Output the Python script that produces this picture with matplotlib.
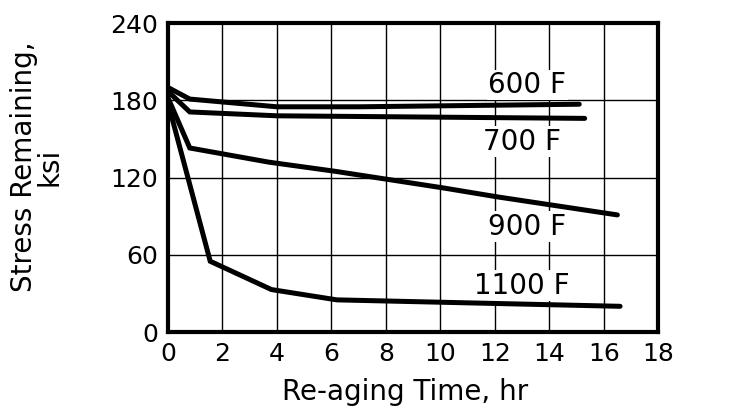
import matplotlib
matplotlib.use("Agg")
import matplotlib.pyplot as plt

# Data
t_600 = [0, 0.8, 4.0, 7.0, 15.1]
s_600 = [190, 181, 175, 175, 177]

t_700 = [0, 0.8, 4.0, 15.3]
s_700 = [187, 171, 168, 166]

t_900 = [0, 0.8, 3.7, 6.1, 10.1, 12.1, 16.5]
s_900 = [182, 143, 132, 125, 112, 105, 91]

t_1100 = [0, 1.55, 3.8, 6.2, 16.6]
s_1100 = [178, 55, 33, 25, 20]

labels = ["600 F", "700 F", "900 F", "1100 F"]
label_pos = [(13.2, 192), (13.0, 148), (13.2, 82), (13.0, 36)]

x_ticks = [0, 2, 4, 6, 8, 10, 12, 14, 16, 18]
x_ticklabels = ["0", "2", "4", "6", "8", "10", "12", "14", "16", "18"]
y_ticks = [0, 60, 120, 180, 240]

fig = plt.figure(figsize=(7.45, 4.13), dpi=100)
ax = fig.add_axes([0.2255, 0.196, 0.658, 0.748])

ax.set_xlim(0, 18)
ax.set_ylim(0, 240)
ax.set_xticks(x_ticks)
ax.set_xticklabels(x_ticklabels)
ax.set_yticks(y_ticks)
ax.grid(True, color="black", linewidth=1.0)
ax.set_axisbelow(True)
for sp in ax.spines.values():
    sp.set_linewidth(3)
ax.tick_params(length=0, labelsize=18, pad=7)

for t, s in [(t_600, s_600), (t_700, s_700), (t_900, s_900), (t_1100, s_1100)]:
    ax.plot(t, s, color="black", linewidth=3.6, solid_joinstyle="miter",
            solid_capstyle="round", zorder=3)

for lab, (x, y) in zip(labels, label_pos):
    ax.text(x, y, lab, fontsize=20, ha="center", va="center", zorder=2,
            bbox=dict(facecolor="white", edgecolor="none", pad=1))

ax.set_xlabel("Re-aging Time, hr", fontsize=20)
ax.xaxis.set_label_coords(0.484, -0.15)
ax.set_ylabel("Stress Remaining,\nksi", fontsize=20, linespacing=0.85)
ax.yaxis.set_label_coords(-0.214, 0.535)

fig.savefig("out.png", dpi=100)
